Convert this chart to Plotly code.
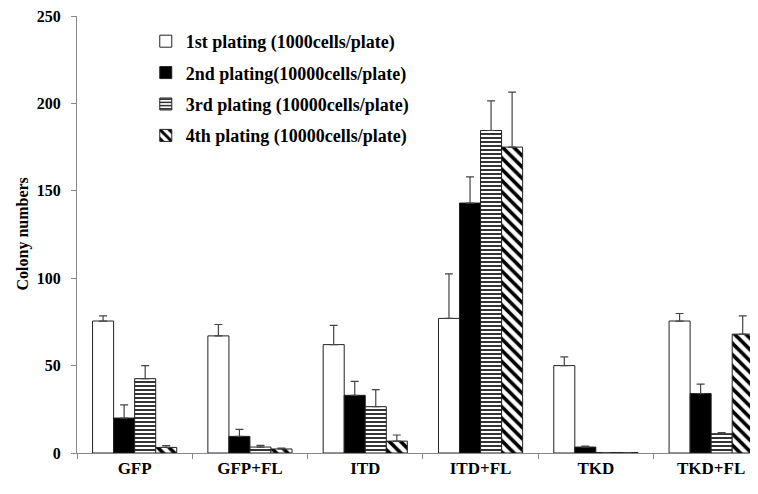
import plotly.graph_objects as go

categories = ["GFP", "GFP+FL", "ITD", "ITD+FL", "TKD", "TKD+FL"]
series_names = [
    "1st plating (1000cells/plate)",
    "2nd plating(10000cells/plate)",
    "3rd plating (10000cells/plate)",
    "4th plating (10000cells/plate)",
]
plating1 = [75.5, 67, 62, 77, 50, 75.5]
plating2 = [20, 9.5, 33, 143, 3.4, 34]
plating3 = [42.5, 3.4, 26.5, 184.5, 0.3, 11]
plating4 = [3.2, 2.3, 6.8, 175, 0.3, 68]
err1 = [3, 6.5, 11, 25.5, 5, 4.3]
err2 = [7.5, 4, 8, 15, 0.5, 5.4]
err3 = [7.5, 1, 9.7, 17, 0, 0.6]
err4 = [1, 0.5, 3.5, 31.5, 0, 10.5]
y_ticks = [0, 50, 100, 150, 200, 250]

values = [plating1, plating2, plating3, plating4]
errors = [err1, err2, err3, err4]
fills = ["white", "black", "white", "white"]
shapes = ["", "", "-", "\\"]
sizes = [8, 8, 4, 8]
solid = [0.3, 0.3, 0.4, 0.45]

FONT = "Liberation Serif"

fig = go.Figure()
for i in range(4):
    fig.add_trace(go.Bar(
        x=categories, y=values[i], name=series_names[i],
        legendgroup=f"g{i}",
        marker=dict(
            color=fills[i],
            line=dict(color="#222222", width=1),
            pattern=dict(shape=shapes[i], fgcolor="black", bgcolor="white",
                         size=sizes[i], solidity=solid[i], fillmode="replace") if shapes[i] else None,
        ),
        error_y=dict(type="data", array=errors[i], arrayminus=[0] * len(errors[i]),
                     symmetric=False, color="#444444", thickness=1.2, width=4),
    ))

# page body has an 8px default margin; compensate so the plot sits where the reference has it
BODY = 8
plot_left, plot_top, plot_bottom, page_w, page_h = 77, 16, 453, 758, 494
cat_px = 115.3
plot_w = page_w - plot_left
xmax = plot_w / cat_px - 0.5

fig.update_layout(
    width=page_w - BODY, height=page_h - BODY,
    margin=dict(l=plot_left - BODY, r=0, t=plot_top - BODY, b=page_h - plot_bottom),
    paper_bgcolor="white", plot_bgcolor="white",
    barmode="group", bargap=0.27, bargroupgap=0,
    font=dict(family=FONT, size=14, color="black"),
    showlegend=True,
    legend=dict(
        x=0.101, y=0.984, xanchor="left", yanchor="top",
        font=dict(family=FONT, size=18, color="black", weight="bold"),
        traceorder="grouped", tracegroupgap=5,
        bgcolor="rgba(0,0,0,0)", itemwidth=30,
    ),
    xaxis=dict(
        range=[-0.5, xmax], showline=True, linecolor="#888888", linewidth=1,
        ticks="outside", tickson="boundaries", ticklen=5, tickcolor="#888888",
        tickfont=dict(family=FONT, size=17, weight="bold"),
        showgrid=False, zeroline=False, automargin=False,
    ),
    yaxis=dict(
        range=[0, 250], tickvals=y_ticks, showline=True, linecolor="#888888", linewidth=1,
        ticks="outside", ticklen=5, tickcolor="#888888",
        tickfont=dict(family=FONT, size=16, weight="bold"),
        ticklabelstandoff=7, ticklabeloverflow="allow",
        showgrid=False, zeroline=False, automargin=False,
    ),
    annotations=[dict(
        text="<b>Colony numbers</b>", textangle=-90, showarrow=False,
        xref="paper", yref="paper", x=-(plot_left - 22) / plot_w, y=0.5,
        xanchor="center", yanchor="middle",
        font=dict(family=FONT, size=16, color="black"),
    )],
)

fig.write_html("out.html")
